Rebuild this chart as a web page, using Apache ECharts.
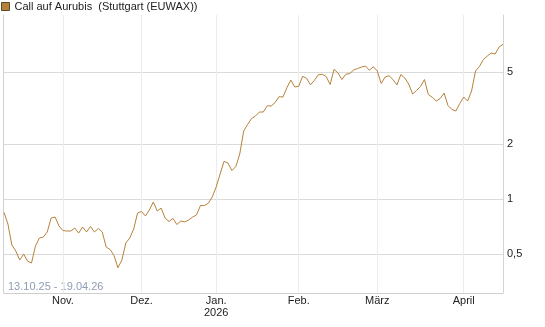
<!DOCTYPE html>
<html lang="de">
<head>
<meta charset="UTF-8">
<title>Call auf Aurubis</title>
<script src="https://cdn.jsdelivr.net/npm/echarts@6/dist/echarts.min.js"></script>
</head>
<body style="margin:0; background:#fff">
<div id="chart" style="width:545px; height:327px"></div>
<script>
// trading days (Stuttgart / EUWAX)
const dates = [
  '13.10.25','14.10.25','15.10.25','16.10.25','17.10.25','20.10.25','21.10.25','22.10.25','23.10.25','24.10.25','27.10.25','28.10.25','29.10.25','30.10.25','31.10.25',
  '03.11.25','04.11.25','05.11.25','06.11.25','07.11.25','10.11.25','11.11.25','12.11.25','13.11.25','14.11.25','17.11.25','18.11.25','19.11.25','20.11.25','21.11.25','24.11.25','25.11.25','26.11.25','27.11.25','28.11.25',
  '01.12.25','02.12.25','03.12.25','04.12.25','05.12.25','08.12.25','09.12.25','10.12.25','11.12.25','12.12.25','15.12.25','16.12.25','17.12.25','18.12.25','19.12.25','22.12.25','23.12.25','29.12.25','30.12.25',
  '02.01.26','05.01.26','06.01.26','07.01.26','08.01.26','09.01.26','12.01.26','13.01.26','14.01.26','15.01.26','16.01.26','19.01.26','20.01.26','21.01.26','22.01.26','23.01.26','26.01.26','27.01.26','28.01.26','29.01.26','30.01.26',
  '02.02.26','03.02.26','04.02.26','05.02.26','06.02.26','09.02.26','10.02.26','11.02.26','12.02.26','13.02.26','16.02.26','17.02.26','18.02.26','19.02.26','20.02.26','23.02.26','24.02.26','25.02.26','26.02.26','27.02.26',
  '02.03.26','03.03.26','04.03.26','05.03.26','06.03.26','09.03.26','10.03.26','11.03.26','12.03.26','13.03.26','16.03.26','17.03.26','18.03.26','19.03.26','20.03.26','23.03.26','24.03.26','25.03.26','26.03.26','27.03.26','30.03.26','31.03.26',
  '01.04.26','02.04.26','07.04.26','08.04.26','09.04.26','10.04.26','13.04.26','14.04.26','15.04.26','16.04.26','17.04.26'
];

const prices = [
  0.845,0.729,0.559,0.518,0.462,0.498,0.456,0.445,0.552,0.610,0.618,0.659,0.786,0.796,0.711,
  0.671,0.667,0.667,0.693,0.650,0.702,0.659,0.706,0.659,0.689,0.659,0.545,0.528,0.489,0.419,0.462,0.573,0.610,0.684,0.838,
  0.854,0.807,0.870,0.963,0.859,0.892,0.786,0.752,0.783,0.724,0.757,0.748,0.767,0.796,0.817,0.921,0.921,0.947,1.026,
  1.164,1.372,1.611,1.577,1.434,1.509,1.767,2.364,2.567,2.769,2.858,3.006,3.006,3.255,3.243,3.390,3.649,3.634,4.088,4.507,4.125,
  4.161,4.724,4.606,4.242,4.490,4.814,4.845,4.711,4.257,5.160,4.924,4.535,4.845,4.893,5.115,5.212,5.312,5.380,5.095,5.332,
  5.050,4.312,4.681,4.759,4.535,4.231,4.832,4.623,4.285,3.775,3.947,4.151,4.535,3.751,3.625,3.455,3.566,3.823,3.264,3.103,3.044,3.347,
  3.634,3.455,3.921,5.050,5.346,5.842,6.106,6.342,6.262,6.842,7.079
];

const yTicks = [0.5, 1, 2, 5];
const monthKeys = ['11', '12', '01', '02', '03', '04'];
const monthLabels = ['Nov.', 'Dez.', 'Jan.\n2026', 'Feb.', 'März', 'April'];
const seriesName = 'Call auf Aurubis  (Stuttgart (EUWAX))';
const rangeText = '13.10.25 - 19.04.26';

const font = 'Liberation Sans, Arial, sans-serif';

function month(d) { return d.substr(3, 2); }
function isMonthStart(i) {
  return i > 0 && month(dates[i]) !== month(dates[i - 1]);
}

let chart = echarts.init(document.getElementById('chart'));
let option = {
  animation: false,
  textStyle: { fontFamily: font },
  legend: {
    left: 0, top: 0, padding: [1, 0, 0, 1],
    itemWidth: 8, itemHeight: 8,
    icon: 'rect',
    itemStyle: { borderColor: '#5a4a30', borderWidth: 1 },
    textStyle: { fontSize: 11, color: '#222', fontFamily: font },
    data: [seriesName]
  },
  grid: { left: 4, right: 42, top: 15, bottom: 34 },
  graphic: [{
    type: 'text', left: 8, top: 281,
    style: { text: rangeText, fill: '#8e9db3', font: '11px ' + font }
  }],
  xAxis: {
    type: 'category',
    data: dates,
    boundaryGap: false,
    axisLine: { lineStyle: { color: '#cfcfcf' } },
    axisTick: { show: false },
    axisLabel: {
      interval: function (i) { return isMonthStart(i); },
      formatter: function (v) { return monthLabels[monthKeys.indexOf(month(v))]; },
      color: '#222', fontSize: 11, lineHeight: 12, margin: 2
    },
    splitLine: {
      show: true,
      interval: function (i) { return isMonthStart(i); },
      lineStyle: { color: '#ececec' }
    }
  },
  yAxis: [{
    type: 'log',
    position: 'right',
    min: 0.3045, max: 10.26,
    axisLine: { show: true, lineStyle: { color: '#d4d4d4' } },
    axisTick: { show: false, customValues: yTicks },
    axisLabel: {
      customValues: yTicks,
      formatter: function (v) { return String(v).replace('.', ','); },
      color: '#222', fontSize: 11, margin: 4
    },
    splitLine: { show: true, lineStyle: { color: '#dadada' } }
  }, {
    type: 'value',
    position: 'left',
    offset: 1,
    min: 0, max: 1,
    axisLine: { show: true, lineStyle: { color: '#d0d0d0' } },
    axisTick: { show: false },
    axisLabel: { show: false },
    splitLine: { show: false }
  }],
  series: [{
    name: seriesName,
    type: 'line',
    data: prices,
    showSymbol: false,
    itemStyle: { color: '#b5823a' },
    lineStyle: { color: '#b5823a', width: 1 }
  }]
};
chart.setOption(option);
</script>
</body>
</html>
